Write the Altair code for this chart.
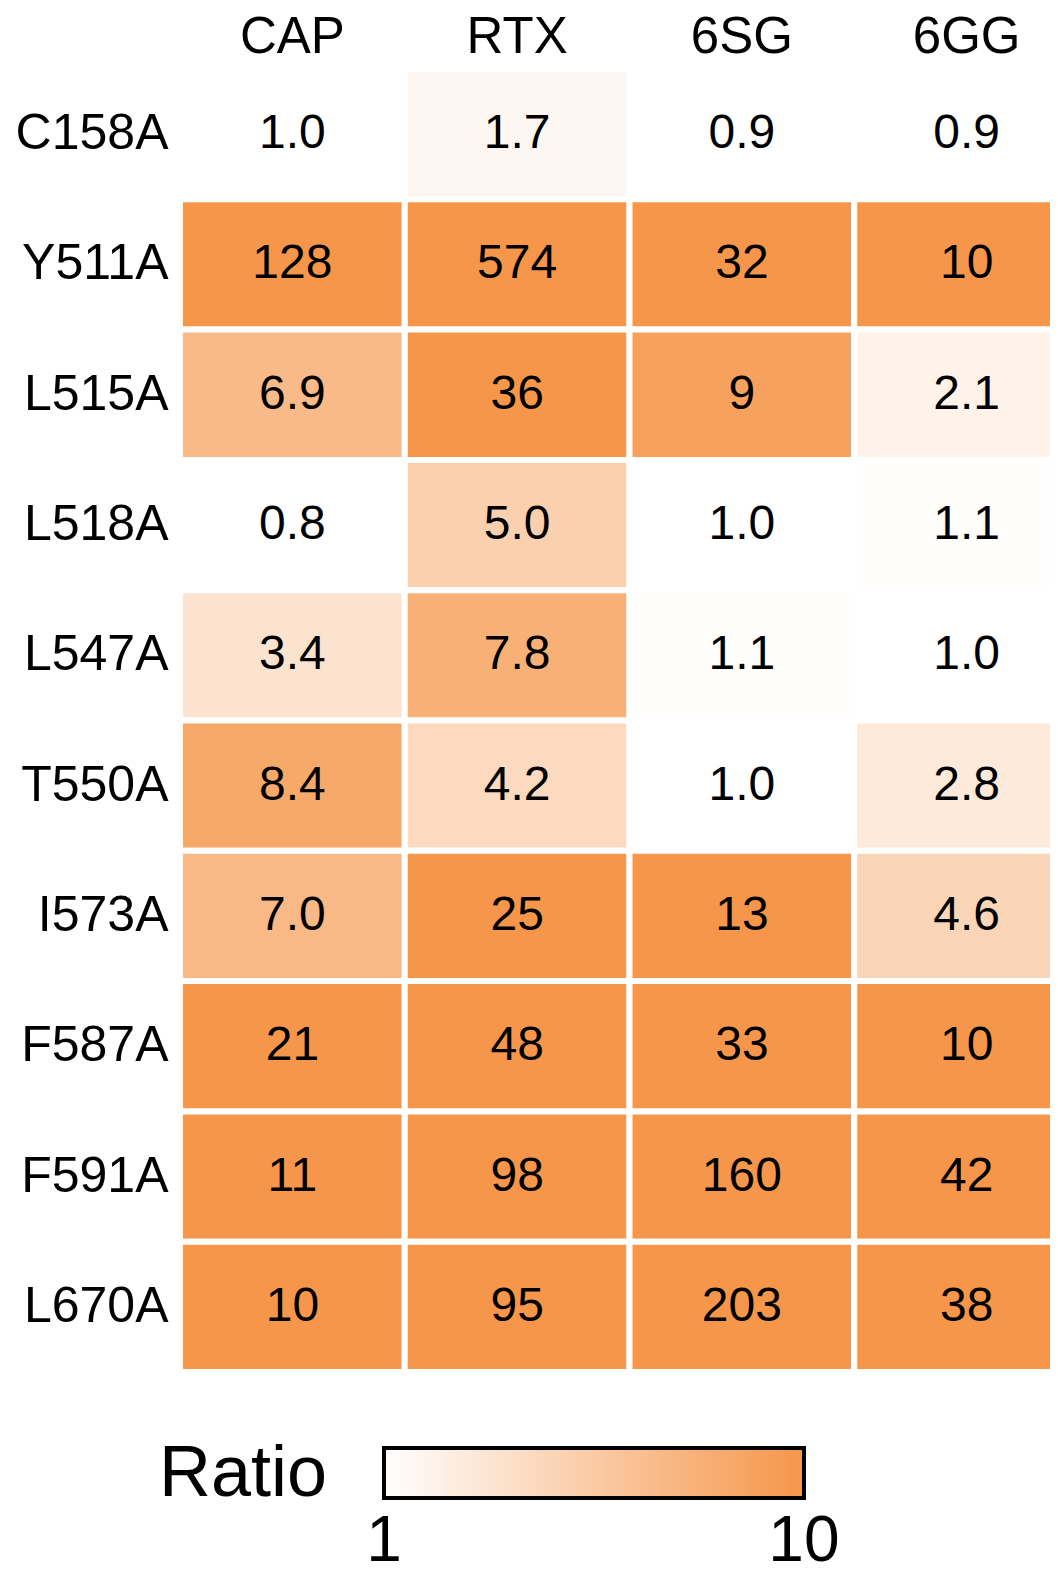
import altair as alt
import pandas as pd

rows = ["C158A", "Y511A", "L515A", "L518A", "L547A", "T550A", "I573A", "F587A", "F591A", "L670A"]
cols = ["CAP", "RTX", "6SG", "6GG"]

cap_vals = [1.0, 128, 6.9, 0.8, 3.4, 8.4, 7.0, 21, 11, 10]
rtx_vals = [1.7, 574, 36, 5.0, 7.8, 4.2, 25, 48, 98, 95]
sg_vals = [0.9, 32, 9, 1.0, 1.1, 1.0, 13, 33, 160, 203]
gg_vals = [0.9, 10, 2.1, 1.1, 1.0, 2.8, 4.6, 10, 42, 38]

cap_txt = ["1.0", "128", "6.9", "0.8", "3.4", "8.4", "7.0", "21", "11", "10"]
rtx_txt = ["1.7", "574", "36", "5.0", "7.8", "4.2", "25", "48", "98", "95"]
sg_txt = ["0.9", "32", "9", "1.0", "1.1", "1.0", "13", "33", "160", "203"]
gg_txt = ["0.9", "10", "2.1", "1.1", "1.0", "2.8", "4.6", "10", "42", "38"]

legend_ticks = [1, 10]

series = {
    "CAP": (cap_vals, cap_txt),
    "RTX": (rtx_vals, rtx_txt),
    "6SG": (sg_vals, sg_txt),
    "6GG": (gg_vals, gg_txt),
}

records = []
for c in cols:
    vals, txts = series[c]
    for r, v, t in zip(rows, vals, txts):
        records.append({"row": r, "col": c, "ratio": v, "label": t})
df = pd.DataFrame(records)

FONT = "Liberation Sans"

base = alt.Chart(df).encode(
    x=alt.X("col:N", sort=cols, title=None,
            scale=alt.Scale(range=[0, 899]),
            axis=alt.Axis(orient="top", labelAngle=0, ticks=False, domain=False,
                          labelFontSize=51, labelFont=FONT, labelColor="black",
                          labelPadding=6)),
    y=alt.Y("row:N", sort=rows, title=None,
            axis=alt.Axis(ticks=False, domain=False, labelFontSize=50,
                          labelFont=FONT, labelColor="black", labelPadding=12)),
)

rects = base.mark_rect(stroke="white", strokeWidth=6).encode(
    color=alt.Color("ratio:Q",
                    scale=alt.Scale(domain=[0.999, 10.001], range=["#FFFFFF", "#F5964A"],
                                    interpolate="rgb", clamp=True),
                    legend=alt.Legend(title="Ratio", orient="none", direction="horizontal",
                                      legendX=-21, legendY=1379,
                                      titleOrient="left", titleFontSize=72,
                                      titleFont=FONT, titleFontWeight="normal",
                                      titleColor="black", titlePadding=56,
                                      titleBaseline="middle",
                                      gradientLength=420, gradientThickness=50,
                                      gradientStrokeColor="black", gradientStrokeWidth=4,
                                      values=legend_ticks, labelFontSize=64, labelFont=FONT,
                                      labelColor="black",
                                      labelOffset=12, padding=0))
)

texts = base.mark_text(fontSize=48, font=FONT, color="black", baseline="middle").encode(
    text="label:N"
)

chart = (rects + texts).properties(
    width=870, height=1303,
    autosize=alt.AutoSizeParams(type="none"),
    padding={"left": 172, "top": 61, "right": 0, "bottom": 213},
).configure_view(stroke=None)

chart.save("out.html", embed_options={"renderer": "svg", "actions": False})
